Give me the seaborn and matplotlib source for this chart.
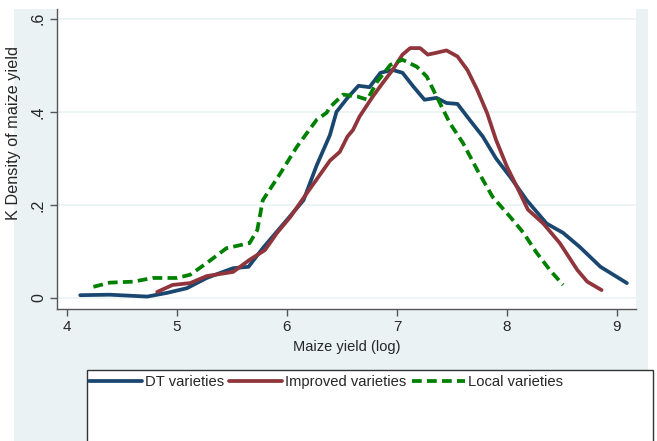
import numpy as np
import pandas as pd
import seaborn as sns
import matplotlib.pyplot as plt
from matplotlib.patches import Rectangle

# Values
dt_x = [4.12, 4.39, 4.73, 4.91, 5.09, 5.27, 5.51, 5.65, 5.78, 6.0, 6.15, 6.27, 6.39,
        6.45, 6.55, 6.65, 6.75, 6.85, 6.96, 7.05, 7.15, 7.25, 7.36, 7.45, 7.55, 7.66,
        7.78, 7.9, 8.03, 8.18, 8.36, 8.51, 8.66, 8.85, 9.09]
dt_y = [0.006, 0.007, 0.003, 0.011, 0.021, 0.043, 0.064, 0.067, 0.107, 0.168, 0.21, 0.285, 0.35,
        0.40, 0.43, 0.456, 0.453, 0.484, 0.49, 0.484, 0.454, 0.426, 0.43, 0.419, 0.417, 0.383,
        0.347, 0.30, 0.26, 0.21, 0.16, 0.14, 0.11, 0.067, 0.032]

imp_x = [4.82, 4.96, 5.12, 5.27, 5.51, 5.66, 5.8, 5.91, 6.03, 6.18, 6.39, 6.48, 6.55, 6.6,
         6.66, 6.78, 6.87, 6.96, 7.05, 7.12, 7.21, 7.28, 7.36, 7.45, 7.55, 7.64, 7.73, 7.82,
         7.9, 8.0, 8.09, 8.19, 8.33, 8.48, 8.64, 8.73, 8.86]
imp_y = [0.013, 0.028, 0.032, 0.047, 0.056, 0.082, 0.103, 0.14, 0.174, 0.225, 0.295, 0.314, 0.347, 0.361,
         0.39, 0.433, 0.462, 0.49, 0.523, 0.537, 0.537, 0.523, 0.527, 0.532, 0.519, 0.49, 0.447, 0.397,
         0.34, 0.282, 0.239, 0.19, 0.16, 0.118, 0.06, 0.035, 0.017]

loc_x = [4.24, 4.39, 4.6, 4.78, 5.0, 5.12, 5.27, 5.45, 5.66, 5.73, 5.78, 5.94, 6.09, 6.27,
         6.36, 6.39, 6.51, 6.64, 6.73, 6.82, 6.94, 7.05, 7.18, 7.27, 7.36, 7.48, 7.6, 7.73,
         7.87, 8.03, 8.15, 8.27, 8.39, 8.51]
loc_y = [0.024, 0.033, 0.035, 0.043, 0.043, 0.05, 0.075, 0.107, 0.118, 0.146, 0.21, 0.268, 0.325, 0.383,
         0.398, 0.41, 0.437, 0.433, 0.426, 0.465, 0.501, 0.512, 0.497, 0.476, 0.433, 0.376, 0.333, 0.275,
         0.217, 0.174, 0.14, 0.097, 0.06, 0.028]

labels = ["DT varieties", "Improved varieties", "Local varieties"]
colors = ["#1a476f", "#90353b", "#008000"]

x_ticks = [4, 5, 6, 7, 8, 9]
y_ticks = [0, 0.2, 0.4, 0.6]
y_tick_labels = ["0", ".2", ".4", ".6"]

df = pd.concat([
    pd.DataFrame({"x": dt_x, "y": dt_y, "variety": labels[0]}),
    pd.DataFrame({"x": imp_x, "y": imp_y, "variety": labels[1]}),
    pd.DataFrame({"x": loc_x, "y": loc_y, "variety": labels[2]}),
])

sns.set_style("white")
plt.rcParams["font.family"] = ["Liberation Sans", "DejaVu Sans"]

W, H = 657, 441
fig = plt.figure(figsize=(W / 100, H / 100), dpi=100, facecolor="white")

# Stata-like light background, kept behind the axes
bg = "#eaf2f3"
fig.add_artist(Rectangle((14 / W, 0), (648 - 14) / W, 1 - 9 / H, transform=fig.transFigure,
                         facecolor=bg, edgecolor="none", zorder=-10))

ax = fig.add_axes([57 / W, 1 - 309 / H, (636 - 57) / W, 300 / H])
ax.set_zorder(1)
ax.set_facecolor("white")

sns.lineplot(data=df, x="x", y="y", hue="variety", style="variety",
             palette=dict(zip(labels, colors)),
             dashes={labels[0]: "", labels[1]: "", labels[2]: (2.6, 1.4)},
             sort=False, linewidth=2.7, ax=ax, legend=True)

ax.set_xlim(3.909, 9.173)
ax.set_ylim(-0.0237, 0.621)
ax.set_xticks(x_ticks)
ax.set_xticklabels([str(v) for v in x_ticks], fontsize=11)
ax.set_yticks(y_ticks)
ax.set_yticklabels(y_tick_labels, fontsize=11.5, rotation=90, va="center")
ax.grid(axis="y", color=bg, linewidth=1.2)
ax.grid(axis="x", visible=False)
for s in ["top", "right"]:
    ax.spines[s].set_visible(False)
for s in ["left", "bottom"]:
    ax.spines[s].set_color("#555555")
    ax.spines[s].set_linewidth(1.0)
ax.tick_params(axis="both", direction="out", length=5, width=1, color="#555555",
               left=True, bottom=True, pad=3)
ax.set_xlabel("Maize yield (log)", fontsize=10.5, labelpad=4)
ax.set_ylabel("K Density of maize yield", fontsize=11.7)
ax.yaxis.set_label_coords(-36 / (636 - 57), 0.587)

handles, lbls = ax.get_legend_handles_labels()
ax.get_legend().remove()

# legend box (runs off the bottom of the figure like the reference)
fig.add_artist(Rectangle((87 / W, -0.05), (653 - 87) / W, (441 - 370) / H + 0.05,
                         transform=fig.transFigure, facecolor="white",
                         edgecolor="#333333", linewidth=1.0, zorder=1))
leg = fig.legend(handles, lbls, ncol=3, frameon=False, loc="upper left",
                 bbox_to_anchor=(89 / W, 1 - 375 / H), fontsize=10.6,
                 handlelength=3.6, handletextpad=0.2, columnspacing=0.35,
                 borderaxespad=0, borderpad=0)
leg.set_zorder(2)

fig.savefig("out.png", dpi=100, facecolor="white")
